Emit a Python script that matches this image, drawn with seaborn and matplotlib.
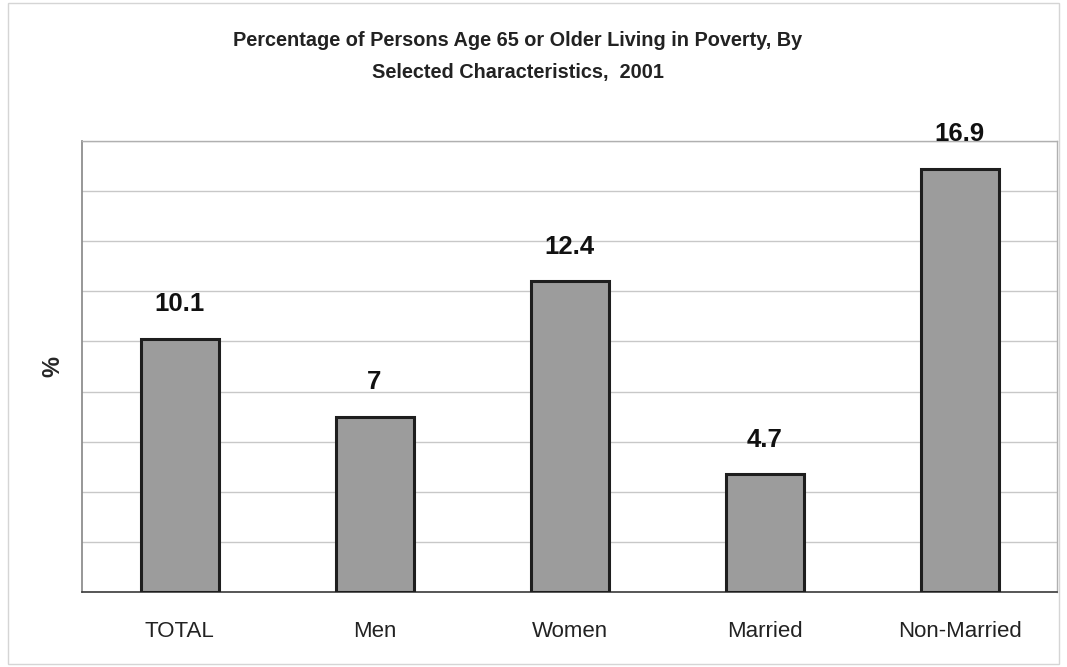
import matplotlib
matplotlib.use("Agg")
import matplotlib.pyplot as plt
import seaborn as sns
import pandas as pd
from matplotlib.patches import Rectangle

categories = ["TOTAL", "Men", "Women", "Married", "Non-Married"]
values = [10.1, 7, 12.4, 4.7, 16.9]
value_labels = ["10.1", "7", "12.4", "4.7", "16.9"]
title = "Percentage of Persons Age 65 or Older Living in Poverty, By\nSelected Characteristics,  2001"
y_label = "%"

sns.set_theme(style="white")
plt.rcParams['font.family'] = ['Liberation Sans', 'DejaVu Sans']

df = pd.DataFrame({"cat": categories, "val": values})

fig = plt.figure(figsize=(10.67, 6.67), dpi=100)
ax = fig.add_axes([82/1067, 1 - 592/667, (1057-82)/1067, (592-141)/667])

sns.barplot(data=df, x="cat", y="val", color="#9c9c9c", saturation=1,
            width=0.4, edgecolor="#1e1e1e", linewidth=2.2, ax=ax, zorder=3)

ax.set_ylim(0, 18)
ax.set_yticks(range(0, 19, 2))
ax.set_yticklabels([])
ax.tick_params(axis="y", length=0)
ax.yaxis.grid(True, color="#c8c8c8", linewidth=1.0, zorder=0)
ax.set_axisbelow(True)
for s in ["top", "right"]:
    ax.spines[s].set_color("#b0b0b0")
    ax.spines[s].set_linewidth(1.0)
ax.spines["left"].set_color("#8a8a8a")
ax.spines["bottom"].set_color("#3a3a3a")
ax.spines["bottom"].set_linewidth(1.2)

ax.set_xlabel("")
ax.set_ylabel(y_label, fontsize=17, fontweight="bold")
ax.yaxis.set_label_coords(-0.018, 0.5)
ax.tick_params(axis="x", length=0, pad=21, labelsize=16, colors="#222222")

for i, (v, lab) in enumerate(zip(values, value_labels)):
    ax.annotate(lab, xy=(i, v), xytext=(0, 25), textcoords="offset points",
                ha="center", va="center", fontsize=18.5, fontweight="bold",
                color="#111111")

fig.text(518/1067, 1 - 31/667, title, ha="center", va="top",
         fontsize=14.3, fontweight="bold", color="#222222", linespacing=1.85)

fig.patches.append(Rectangle((8/1067, 0.005), 1 - 16/1067, 0.99,
                             transform=fig.transFigure, fill=False,
                             edgecolor="#d5d5d5", linewidth=1.0))

fig.savefig("out.png", dpi=100)
